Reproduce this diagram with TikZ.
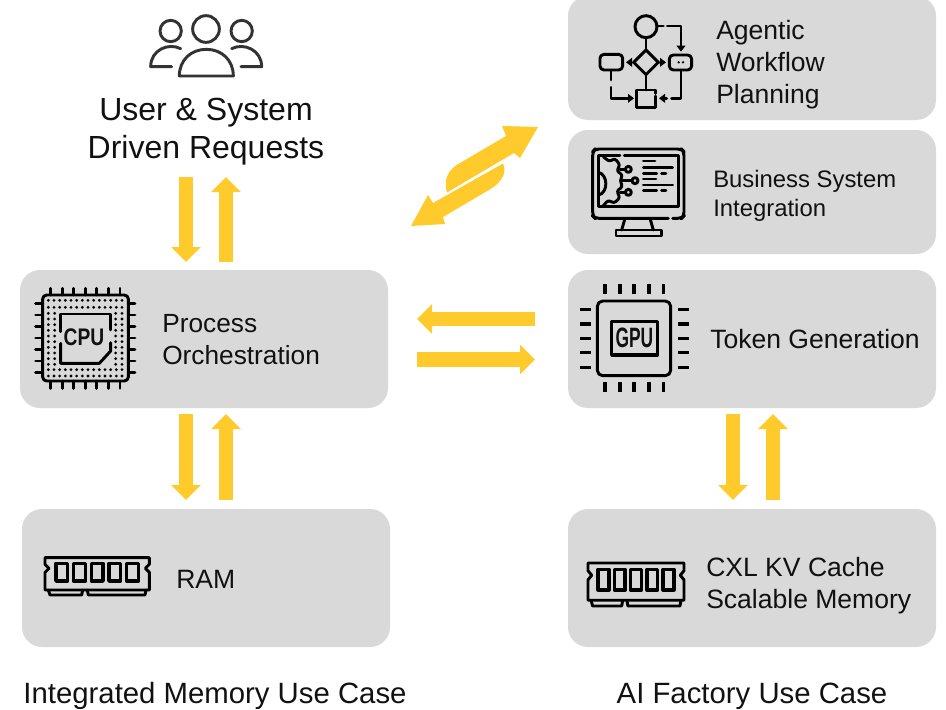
\documentclass[tikz,border=0pt]{standalone}
\usepackage{fontspec}
\setmainfont{Liberation Sans}
\usetikzlibrary{arrows.meta,calc}
\definecolor{panel}{HTML}{D9D9D9}
\definecolor{amber}{HTML}{FFCA2B}
\definecolor{ink}{HTML}{111111}
\tikzset{
 panelbox/.style={draw=none,fill=panel,rounded corners=15pt,minimum width=276pt,minimum height=103.5pt,inner sep=0pt},
 bigarrow/.style={draw=amber,line width=11pt,-{Triangle[length=11.25pt,width=21.5pt]}},
 lbl/.style={text=ink,inner sep=0pt,anchor=west,align=left,font=\fontsize{19.9pt}{24pt}\selectfont},
 lblsmall/.style={text=ink,inner sep=0pt,anchor=west,align=left,font=\fontsize{17.9pt}{21.75pt}\selectfont},
 caption/.style={text=ink,inner sep=0pt,font=\fontsize{22pt}{26pt}\selectfont},
 icon/.style={line width=2.2pt,draw=black,line cap=round,line join=round},
 humans/.style={icon,draw=black!80},
 zoomed/.style={x=0.25pt,y=-0.25pt},
 smalltip/.style={-{Triangle[length=4.5pt,width=6.5pt]}},
 ramicon/.pic={
  \draw[icon] (45,38) -- (358,38) -- (358,58) -- (346,70) -- (358,82) -- (358,135) -- (45,135) -- (45,82) -- (57,70) -- (45,58) -- cycle;
  \foreach \a in {78,131,184,237,290}{\draw[icon,line width=2.7pt] (\a,55) rectangle ++(35,53);}
  \draw[icon] (55,135) -- (60,150) -- (155,150) -- (158,135);
  \draw[icon] (172,135) -- (175,150) -- (345,150) -- (348,135);
 }
}
\begin{document}
\begin{tikzpicture}[x=0.75pt,y=-0.75pt]
\useasboundingbox (0,0) rectangle (946,710);
% panels
\node[panelbox] (agent) at (752,58) [minimum height=93pt] {};
\node[panelbox] (biz) at (752,192) [minimum height=93pt] {};
\node[panelbox] (tok) at (752,339) {};
\node[panelbox] (cxl) at (752,578) {};
\node[panelbox] (proc) at (204,339) {};
\node[panelbox] (ram) at (206,578) {};
% texts
\node[inner sep=0pt,text=ink,align=center,font=\fontsize{24pt}{28.5pt}\selectfont] (req) at (206,132) {User \& System\\Driven Requests};
\node[lbl] (agt) at (716,65) {Agentic\\Workflow\\Planning};
\node[lblsmall] (bzt) at (713,195.5) {Business System\\Integration};
\node[lbl] (tkt) at (710,339) {Token Generation};
\node[lbl] (cxt) at (706,586) {CXL KV Cache\\Scalable Memory};
\node[lbl,font=\fontsize{19.7pt}{24pt}\selectfont] (prt) at (162,340) {Process\\Orchestration};
\node[lbl] (rmt) at (176,579) {RAM};
\node[caption] (c1) at (215,696) {Integrated Memory Use Case};
\node[caption] (c2) at (752,696) {AI Factory Use Case};
% connector ends
\coordinate (a1) at (186,177); \coordinate (a2) at (186,262);
\coordinate (b1) at (226,262); \coordinate (b2) at (226,177);
\coordinate (a3) at (186,414); \coordinate (a4) at (186,500);
\coordinate (b3) at (226,500); \coordinate (b4) at (226,414);
\coordinate (a5) at (733,414); \coordinate (a6) at (733,500);
\coordinate (b5) at (773,500); \coordinate (b6) at (773,414);
\coordinate (h1) at (535,319); \coordinate (h2) at (417,319);
\coordinate (h3) at (417,359.5); \coordinate (h4) at (535,359.5);
\draw[bigarrow] (a1) -- (a2);
\draw[bigarrow] (b1) -- (b2);
\draw[bigarrow] (a3) -- (a4);
\draw[bigarrow] (b3) -- (b4);
\draw[bigarrow] (a5) -- (a6);
\draw[bigarrow] (b5) -- (b6);
\draw[bigarrow] (h1) -- (h2);
\draw[bigarrow] (h3) -- (h4);
% diagonal double arrow
\fill[amber] (538,127) -- (520,158) -- (514,153) -- (447,192.5) .. controls (443,178) and (449,169) .. (460,163) -- (506,136) -- (502,126) -- cycle;
\fill[amber] (411,226) -- (428,195) -- (433,203) -- (503,163.5) .. controls (507,172) and (503,182) .. (488,190.5) -- (443,217) -- (445,224) -- cycle;
% people
\begin{scope}[shift={(140,5)},zoomed]
 \draw[humans] (198,72) circle (40);
 \draw[humans] (92,78) circle (32);
 \draw[humans] (305,78) circle (32);
 \draw[humans] (118,213) -- (280,213) .. controls (280,165) and (245,133) .. (199,133) .. controls (153,133) and (118,165) .. (118,213) -- cycle;
 \draw[humans] (122,131) .. controls (85,112) and (32,135) .. (32,185) -- (95,185);
 \draw[humans] (275,131) .. controls (312,112) and (365,135) .. (365,185) -- (303,185);
\end{scope}
% workflow
\begin{scope}[shift={(560,0)},zoomed]
 \draw[icon] (258,80) circle (33);
 \draw[icon] (258,113) -- (258,150);
 \draw[icon] (258,150) -- (295,187) -- (258,224) -- (221,187) -- cycle;
 \draw[icon] (258,224) -- (258,270);
 \draw[icon] (290,78) -- (310,78);
 \draw[icon,smalltip] (322,78) -- (363,78) -- (363,155);
 \draw[icon,rounded corners=3pt] (328,165) rectangle (395,210);
 \draw[icon,rounded corners=3pt] (120,163) rectangle (188,210);
 \fill (356,187) circle (4) (369,187) circle (4);
 \draw[icon,smalltip] (215,187) -- (198,187);
 \draw[icon,smalltip] (300,187) -- (318,187);
 \draw[icon] (153,210) -- (153,240);
 \draw[icon,smalltip] (153,262) -- (153,295) -- (222,295);
 \draw[icon] (287,288) -- (287,322) -- (230,322) -- (230,270) -- (287,270) -- (287,280);
 \draw[icon] (363,210) -- (363,295) -- (335,295);
 \draw[icon,smalltip] (320,295) -- (297,295);
\end{scope}
% monitor
\begin{scope}[shift={(570,135)},zoomed]
 \draw[icon,rounded corners=3pt] (295,250) -- (75,250) -- (68,243) -- (68,50) -- (75,42) -- (335,42) -- (342,50) -- (342,243) -- (335,250) -- (308,250);
 \draw[icon] (150,62) -- (85,62) -- (85,215) -- (325,215) -- (325,62) -- (163,62);
 \draw[icon] (165,250) -- (155,285);
 \draw[icon] (240,250) -- (250,285);
 \draw[icon] (138,285) rectangle (275,303);
 \draw[icon] (85,112) .. controls (115,118) and (115,175) .. (85,180);
 \draw[icon,rounded corners=2pt] (100,65) -- (118,80) -- (135,70) -- (150,90) -- (140,108) -- (158,120) -- (150,137) -- (158,155) -- (140,168) -- (150,188) -- (132,205) -- (115,195) -- (100,212);
 \draw[icon] (150,103) -- (167,103) (152,137) -- (187,137) (150,172) -- (167,172);
 \draw[icon] (175,103) circle (9) (195,137) circle (9) (175,172) circle (9);
 \draw[icon] (220,78) -- (255,78) (220,97) -- (308,97) (220,115) -- (260,115) (275,115) -- (288,115) (220,132) -- (258,132) (220,150) -- (308,150) (220,167) -- (260,167) (275,167) -- (288,167);
\end{scope}
% CPU
\begin{scope}[shift={(20,275)},zoomed]
 \draw[icon,rounded corners=3pt] (68,60) rectangle (325,318);
 \foreach \a in {92,127,161,196,230,265,300}{\draw[icon] (\a,40) -- (\a,60) (\a,318) -- (\a,340);}
 \foreach \a in {85,120,154,189,223,258,292}{\draw[icon] (47,\a) -- (68,\a) (325,\a) -- (345,\a);}
 \foreach \a in {85,102,119,136,153,170,187,204,221,238,255,272,289,306}{
  \fill (\a,76) circle (4.6) (\a,97) circle (4.6) (\a,284) circle (4.6) (\a,303) circle (4.6);}
 \foreach \a in {115,132,149,166,183,200,217,234,251,268}{
  \fill (85,\a) circle (4.6) (104,\a) circle (4.6) (287,\a) circle (4.6) (306,\a) circle (4.6);}
 \draw[icon] (122,170) -- (122,117) -- (272,117) -- (272,165);
 \draw[icon] (272,203) -- (272,228) -- (238,265) -- (122,265) -- (122,205);
 \node[inner sep=0pt,text=ink,xscale=.8,font=\bfseries\fontsize{18pt}{18pt}\selectfont] (cpuname) at (192,187) {CPU};
\end{scope}
% GPU
\begin{scope}[shift={(570,275)},zoomed]
 \draw[icon,rounded corners=4pt] (82,78) rectangle (302,302);
 \foreach \a in {105,150,192,237,280}{\draw[icon,line cap=butt,line width=2.6pt] (\a,28) -- (\a,58) (\a,322) -- (\a,352);}
 \foreach \a in {103,147,190,233,277}{\draw[icon,line cap=butt,line width=2.6pt] (30,\a) -- (62,\a) (325,\a) -- (357,\a);}
 \draw[icon,line width=2.7pt] (125,140) rectangle (262,240);
 \node[inner sep=0pt,text=ink,xscale=.62,font=\bfseries\fontsize{21pt}{21pt}\selectfont] (gpuname) at (193,190) {GPU};
\end{scope}
% RAM
\begin{scope}[shift={(30,545)},zoomed]
 \pic {ramicon};
\end{scope}
\begin{scope}[shift={(574.2,548.4)},x=0.23pt,y=-0.288pt]
 \pic {ramicon};
\end{scope}
\end{tikzpicture}
\end{document}
